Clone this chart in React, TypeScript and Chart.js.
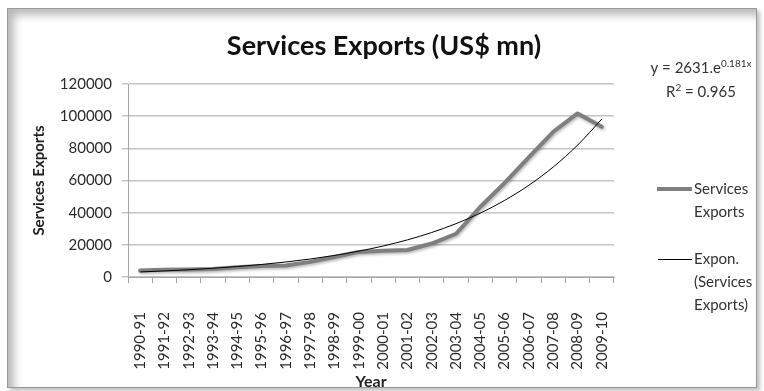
import React, { useEffect, useRef } from "react";
import { Chart, registerables } from "chart.js";

Chart.register(...registerables);

const categories = [
  "1990-91", "1991-92", "1992-93", "1993-94", "1994-95", "1995-96", "1996-97",
  "1997-98", "1998-99", "1999-00", "2000-01", "2001-02", "2002-03", "2003-04",
  "2004-05", "2005-06", "2006-07", "2007-08", "2008-09", "2009-10",
];

const servicesExports = [
  4000, 4500, 4600, 5000, 6000, 6800, 7200, 9400, 12400, 15600,
  16300, 16800, 20800, 26900, 43700, 58500, 74500, 90300, 101700, 93400,
];

// Exponential trend line values (y = 2631.e^0.181x) as read on the chart
const trendExpon = [
  3150, 3780, 4530, 5430, 6500, 7790, 9340, 11190, 13420, 16080,
  19270, 23090, 27670, 33160, 39740, 47630, 57080, 68400, 81970, 98240,
];

const yMin = 0;
const yMax = 120000;
const yStep = 20000;

const chartTitle = "Services Exports (US$ mn)";
const yAxisTitle = "Services Exports";
const xAxisTitle = "Year";
const equationMain = "y = 2631.e";
const equationExp = "0.181x";
const rSquaredLead = "R";
const rSquaredSup = "2";
const rSquaredTail = " = 0.965";
const legendServices = ["Services", "Exports"];
const legendTrend = ["Expon.", "(Services", "Exports)"];

const FONT = "Lato, 'Open Sans', sans-serif";

const overlayPlugin = {
  id: "overlay",
  beforeDatasetDraw(chart: any, args: any) {
    if (args.meta.label === "Services Exports") {
      const ctx = chart.ctx;
      ctx.save();
      ctx.shadowColor = "rgba(0,0,0,0.3)";
      ctx.shadowBlur = 3;
      ctx.shadowOffsetX = 1;
      ctx.shadowOffsetY = 1.5;
    }
  },
  afterDatasetDraw(chart: any, args: any) {
    if (args.meta.label === "Services Exports") {
      chart.ctx.restore();
    }
  },
  afterDraw(chart: any) {
    const ctx = chart.ctx;
    ctx.save();
    // Title
    ctx.fillStyle = "#111";
    ctx.font = `bold 27px ${FONT}`;
    ctx.textAlign = "center";
    ctx.textBaseline = "alphabetic";
    ctx.fillText(chartTitle, 384, 55);

    // Equation
    ctx.fillStyle = "#333";
    ctx.textAlign = "left";
    const mainFont = `15px ${FONT}`;
    const supFont = `10px ${FONT}`;
    ctx.font = mainFont;
    const w1 = ctx.measureText(equationMain).width;
    ctx.font = supFont;
    const w2 = ctx.measureText(equationExp).width;
    let x0 = 701 - (w1 + w2) / 2;
    ctx.font = mainFont;
    ctx.fillText(equationMain, x0, 73);
    ctx.font = supFont;
    ctx.fillText(equationExp, x0 + w1, 67);

    ctx.font = mainFont;
    const r1 = ctx.measureText(rSquaredLead).width;
    const r3 = ctx.measureText(rSquaredTail).width;
    ctx.font = supFont;
    const r2 = ctx.measureText(rSquaredSup).width;
    x0 = 701 - (r1 + r2 + r3) / 2;
    ctx.font = mainFont;
    ctx.fillText(rSquaredLead, x0, 97);
    ctx.font = supFont;
    ctx.fillText(rSquaredSup, x0 + r1, 91);
    ctx.font = mainFont;
    ctx.fillText(rSquaredTail, x0 + r1 + r2, 97);

    // Legend
    ctx.strokeStyle = "#808080";
    ctx.lineWidth = 4;
    ctx.beginPath();
    ctx.moveTo(657, 189);
    ctx.lineTo(692, 189);
    ctx.stroke();
    ctx.strokeStyle = "#000";
    ctx.lineWidth = 1;
    ctx.beginPath();
    ctx.moveTo(658, 259.5);
    ctx.lineTo(692, 259.5);
    ctx.stroke();

    ctx.fillStyle = "#333";
    ctx.font = mainFont;
    ctx.textBaseline = "middle";
    legendServices.forEach((t, i) => ctx.fillText(t, 694, 189 + i * 23));
    legendTrend.forEach((t, i) => ctx.fillText(t, 694, 259 + i * 23));
    ctx.restore();
  },
};

export default function App() {
  const canvasRef = useRef<HTMLCanvasElement | null>(null);

  useEffect(() => {
    if (!canvasRef.current) return;
    const chart = new Chart(canvasRef.current, {
      type: "line",
      data: {
        labels: categories,
        datasets: [
          {
            label: "Expon. (Services Exports)",
            data: trendExpon,
            borderColor: "#000000",
            borderWidth: 1,
            pointRadius: 0,
            fill: false,
            cubicInterpolationMode: "monotone",
            order: 0,
          },
          {
            label: "Services Exports",
            data: servicesExports,
            borderColor: "#7f7f7f",
            borderWidth: 4,
            pointRadius: 0,
            fill: false,
            tension: 0,
            borderJoinStyle: "round",
            borderCapStyle: "round",
            order: 1,
          },
        ],
      },
      options: {
        animation: false,
        responsive: false,
        maintainAspectRatio: false,
        layout: { padding: { top: 84, right: 150, left: 0, bottom: 0 } },
        plugins: {
          legend: { display: false },
          title: { display: false },
          tooltip: { enabled: false },
        },
        scales: {
          x: {
            offset: true,
            grid: {
              offset: true,
              drawOnChartArea: false,
              drawTicks: true,
              tickLength: 6,
              color: "#a6a6a6",
            },
            border: { display: true, color: "#a6a6a6" },
            ticks: {
              autoSkip: false,
              maxRotation: 90,
              minRotation: 90,
              padding: 29,
              font: { family: FONT, size: 15 },
              color: "#2b2b2b",
            },
            title: {
              display: true,
              text: xAxisTitle,
              font: { family: FONT, size: 16, weight: "bold" },
              padding: { top: 0, bottom: 0 },
              color: "#222",
            },
            afterFit: (s: any) => {
              s.height = 114;
            },
          },
          y: {
            min: yMin,
            max: yMax,
            ticks: {
              stepSize: yStep,
              padding: 10,
              font: { family: FONT, size: 15 },
              color: "#2b2b2b",
              callback: (v: any) => String(v),
            },
            grid: { color: "#c4c4c4", tickLength: 6, lineWidth: 1.5 },
            border: { display: true, color: "#a6a6a6" },
            title: {
              display: true,
              text: yAxisTitle,
              font: { family: FONT, size: 15, weight: "bold" },
              padding: { top: 30, bottom: 0 },
              color: "#222",
            },
            afterFit: (s: any) => {
              s.width = 128;
            },
          },
        },
      },
      plugins: [overlayPlugin],
    } as any);
    return () => chart.destroy();
  }, []);

  return (
    <div
      style={{
        position: "fixed",
        left: 0,
        top: 0,
        width: 764,
        height: 391,
        background: "#ffffff",
        overflow: "hidden",
      }}
    >
      <div
        style={{
          position: "absolute",
          left: 7,
          top: 8,
          width: 748,
          height: 378,
          border: "1px solid #9a9a9a",
          boxShadow:
            "inset 6px 6px 8px rgba(0,0,0,0.28), 3px 3px 4px rgba(0,0,0,0.25)",
          background: "#ffffff",
        }}
      />
      <canvas
        ref={canvasRef}
        width={764}
        height={391}
        style={{ position: "absolute", left: 0, top: 0, width: 764, height: 391 }}
      />
    </div>
  );
}
